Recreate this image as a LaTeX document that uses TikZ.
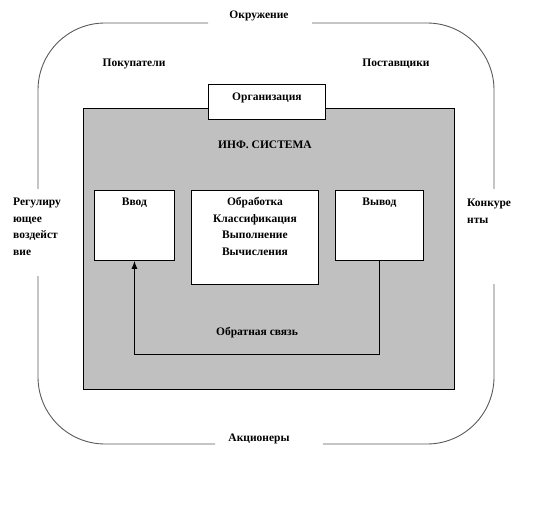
\documentclass[tikz,border=0pt]{standalone}
\usepackage{fontspec}
\setmainfont{Liberation Serif}
\usepackage{xcolor}
\definecolor{sysgray}{RGB}{192,192,192}
\definecolor{envgray}{RGB}{90,90,90}
\usetikzlibrary{arrows}
\usetikzlibrary{arrows.meta}

\begin{document}
\begin{tikzpicture}[x=1pt,y=-1pt,
    font=\fontsize{11.5}{16.5}\selectfont\bfseries,
    envline/.style={draw=envgray, line width=0.9pt, rounded corners=67pt},
    sysn/.style={draw=black, fill=sysgray, line width=0.9pt, anchor=north west, inner sep=0pt},
    blockn/.style={draw=black, fill=white, line width=0.9pt, anchor=north west, inner sep=0pt},
    labeln/.style={anchor=north, yshift=-7.5pt, inner sep=0pt, align=center},
    textn/.style={draw=none, inner sep=0pt, anchor=base},
    siden/.style={draw=none, inner sep=0pt, anchor=north west, align=left}]
  \useasboundingbox (0,0) rectangle (535,505);
  \draw[envline] (208,23) -| (38,189);
  \draw[envline] (38,276) |- (215,444);
  \draw[envline] (323,444) -| (494,284);
  \draw[envline] (494,189) |- (312,23);
  \node[textn] (env) at (259,19) {Окружение};
  \node[textn] (buyers) at (134,67) {Покупатели};
  \node[textn] (suppliers) at (396,67) {Поставщики};
  \node[textn] (holders) at (259,441) {Акционеры};
  \node[siden] (regul) at (13,198) {Регулиру\\ющее\\воздейст\\вие};
  \node[siden] (rivals) at (467,199) {Конкуре\\нты};
  \node[sysn, minimum width=371pt, minimum height=281pt] (infsys) at (83,108) {};
  \node[blockn, minimum width=117pt, minimum height=35pt,
    label={[labeln, yshift=-1.5pt]north:Организация}] (org) at (208,84) {};
  \node[textn] (infname) at (265,149) {ИНФ. СИСТЕМА};
  \node[blockn, minimum width=80pt, minimum height=70pt,
    label={[labeln]north:Ввод}] (vvod) at (94,190) {};
  \node[blockn, minimum width=127pt, minimum height=94pt,
    label={[labeln]north:Обработка\\Классификация\\Выполнение\\Вычисления}] (obr) at (191,190) {};
  \node[blockn, minimum width=88pt, minimum height=70pt,
    label={[labeln]north:Вывод}] (vyvod) at (335,190) {};
  \draw[-{Latex[length=8pt,width=6pt]}, line width=0.9pt] (vyvod.south) -- ++(0,94) coordinate (fb) -| (vvod.south);
  \node[textn] (fbname) at (257,335) {Обратная связь};
\end{tikzpicture}
\end{document}
